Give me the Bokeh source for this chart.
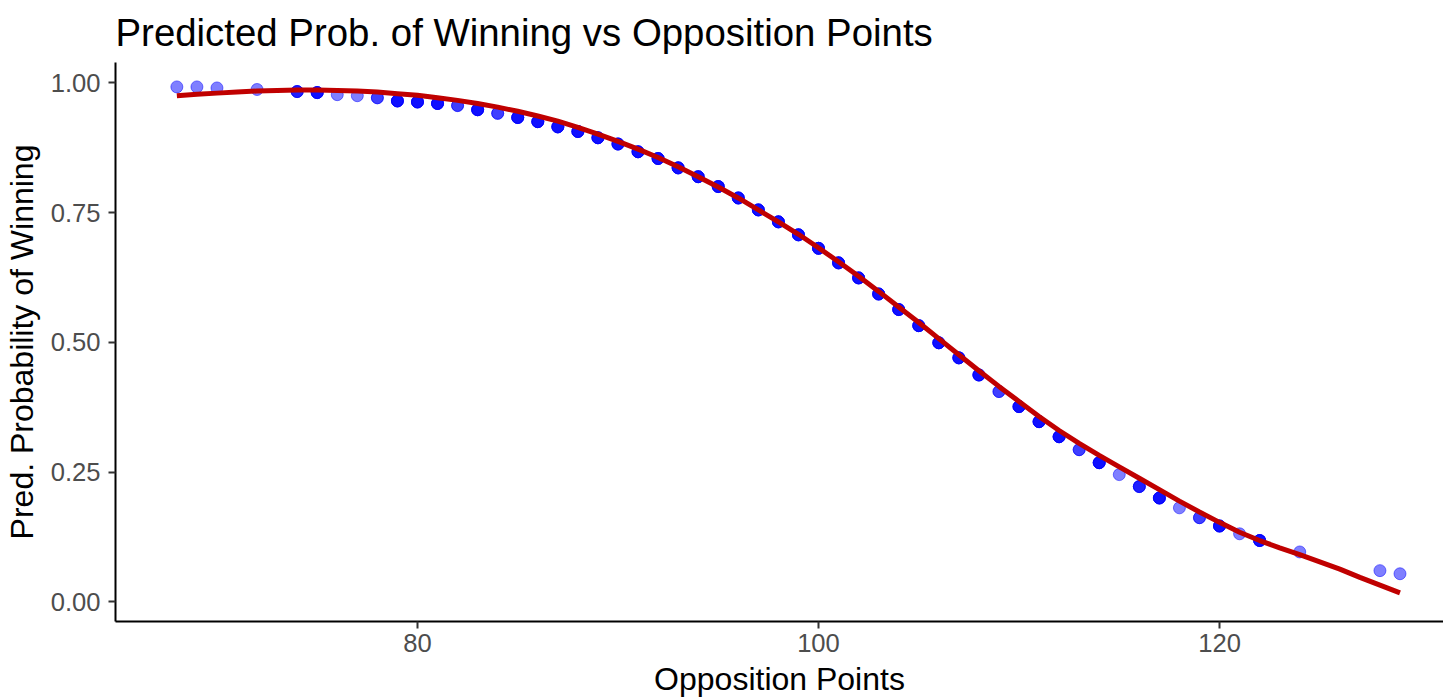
import numpy as np
from bokeh.plotting import figure
from bokeh.models import Range1d, FixedTicker
from bokeh.embed import file_html
from bokeh.resources import INLINE

# Observed points: opposition points, predicted win probability, number of games (overlap)
opp_points = [68, 69, 70, 72, 74, 75, 76, 77, 78, 79, 80, 81, 82, 83, 84, 85, 86, 87, 88,
              89, 90, 91, 92, 93, 94, 95, 96, 97, 98, 99, 100, 101, 102, 103, 104, 105,
              106, 107, 108, 109, 110, 111, 112, 113, 114, 115, 116, 117, 118, 119, 120,
              121, 122, 124, 128, 129]
win_prob = [0.992, 0.992, 0.990, 0.987, 0.983, 0.981, 0.977, 0.975, 0.971, 0.965, 0.963,
            0.960, 0.956, 0.948, 0.941, 0.933, 0.925, 0.915, 0.906, 0.894, 0.882, 0.867,
            0.854, 0.836, 0.819, 0.800, 0.778, 0.755, 0.732, 0.707, 0.681, 0.653, 0.624,
            0.593, 0.563, 0.532, 0.499, 0.470, 0.437, 0.405, 0.376, 0.347, 0.318, 0.293,
            0.268, 0.245, 0.222, 0.200, 0.181, 0.162, 0.146, 0.131, 0.118, 0.096, 0.060,
            0.054]
n_games = [1, 1, 1, 1, 3, 4, 1, 1, 2, 4, 4, 4, 2, 4, 2, 4, 4, 4, 4, 4, 4, 4, 4, 4, 4, 4,
           4, 4, 4, 4, 4, 4, 4, 4, 4, 4, 4, 4, 4, 2, 4, 4, 4, 2, 4, 1, 3, 4, 1, 2, 4, 1, 4,
           1, 1, 1]

# Smoothed fit
smooth_x = list(range(68, 130))
smooth_y = [0.975, 0.978, 0.980, 0.982, 0.984, 0.985, 0.986, 0.986, 0.985, 0.984, 0.982,
            0.979, 0.976, 0.971, 0.966, 0.960, 0.953, 0.945, 0.936, 0.926, 0.914, 0.901,
            0.887, 0.872, 0.856, 0.838, 0.819, 0.799, 0.778, 0.755, 0.732, 0.708, 0.682,
            0.655, 0.627, 0.598, 0.568, 0.538, 0.507, 0.476, 0.445, 0.415, 0.386, 0.357,
            0.330, 0.305, 0.282, 0.260, 0.238, 0.216, 0.194, 0.173, 0.153, 0.134, 0.118,
            0.104, 0.091, 0.077, 0.063, 0.047, 0.032, 0.017]

x_ticks = [80, 100, 120]
y_ticks = [0.0, 0.25, 0.5, 0.75, 1.0]
y_tick_labels = ["0.00", "0.25", "0.50", "0.75", "1.00"]

FONT = "Liberation Sans"

p = figure(frame_width=1328, frame_height=559, output_backend="svg", toolbar_location=None,
           x_range=Range1d(64.94, 131.17), y_range=Range1d(-0.038, 1.039),
           min_border_left=110, min_border_right=0, min_border_top=58, min_border_bottom=0,
           title="Predicted Prob. of Winning vs Opposition Points")

p.title.text_font = FONT
p.title.text_font_size = "38.4px"
p.title.text_font_style = "normal"
p.title.text_color = "black"
p.title.standoff = 17

p.outline_line_color = None
p.xgrid.visible = False
p.ygrid.visible = False
p.background_fill_color = "white"
p.border_fill_color = "white"

for ax in (p.xaxis, p.yaxis):
    ax.axis_line_color = "black"
    ax.axis_line_width = 2
    ax.major_tick_line_color = "#333333"
    ax.major_tick_line_width = 2
    ax.major_tick_out = 7
    ax.major_tick_in = 0
    ax.minor_tick_line_color = None
    ax.major_label_text_font = FONT
    ax.major_label_text_font_size = "25.6px"
    ax.major_label_text_color = "#4D4D4D"
    ax.axis_label_text_font = FONT
    ax.axis_label_text_font_size = "32px"
    ax.axis_label_text_font_style = "normal"
    ax.axis_label_text_color = "black"

p.xaxis.ticker = FixedTicker(ticks=x_ticks)
p.yaxis.ticker = FixedTicker(ticks=y_ticks)
p.yaxis.major_label_overrides = {t: s for t, s in zip(y_ticks, y_tick_labels)}
p.xaxis.axis_label = "Opposition Points"
p.yaxis.axis_label = "Pred. Probability of Winning"
p.xaxis.major_label_standoff = 5
p.xaxis.axis_label_standoff = 6
p.yaxis.major_label_standoff = 8
p.yaxis.axis_label_standoff = 8

px = np.repeat(opp_points, n_games)
py = np.repeat(win_prob, n_games)
p.scatter(px, py, size=12, fill_color="#0000FF", line_color="#0000FF",
          fill_alpha=0.5, line_alpha=0.5, line_width=1)

p.line(smooth_x, smooth_y, line_color="#C00000", line_width=5)

open("out.html", "w").write(file_html(p, INLINE))
